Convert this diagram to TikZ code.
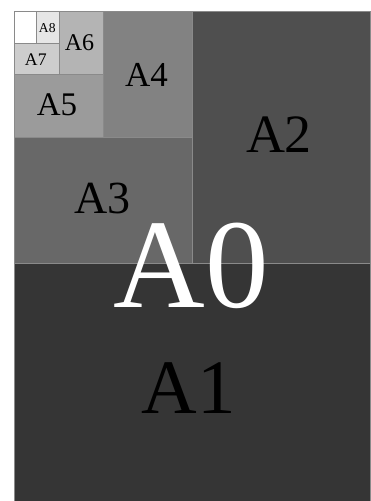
\documentclass[tikz,border=0pt]{standalone}
\usepackage{fontspec}
\setmainfont{Liberation Serif}
\definecolor{cA1}{HTML}{353535}
\definecolor{cA2}{HTML}{4F4F4F}
\definecolor{cA3}{HTML}{686868}
\definecolor{cA4}{HTML}{828282}
\definecolor{cA5}{HTML}{9B9B9B}
\definecolor{cA6}{HTML}{B4B4B4}
\definecolor{cA7}{HTML}{CDCDCD}
\definecolor{cA8}{HTML}{E6E6E6}
\definecolor{edge}{HTML}{8A8A8A}
\tikzset{
  sheet/.style={draw=edge, line width=0.9pt},
  lbl/.style={anchor=base, inner sep=0pt, outer sep=0pt, text depth=0pt},
}
\begin{document}
\begin{tikzpicture}[x=1pt,y=-1pt]
\useasboundingbox (0,0) rectangle (371,501);
\clip (0,0) rectangle (371,501);
\fill[white] (0,0) rectangle (371,501);
\def\L{14.7}\def\T{11.7}\def\R{370}\def\B{514.2}
% sheets
\filldraw[sheet, fill=cA1] (\L,262.95) rectangle (\R,\B);
\filldraw[sheet, fill=cA2] (192.35,\T) rectangle (\R,262.95);
\filldraw[sheet, fill=cA3] (\L,137.3) rectangle (192.35,262.95);
\filldraw[sheet, fill=cA4] (103.5,\T) rectangle (192.35,137.3);
\filldraw[sheet, fill=cA5] (\L,74.5) rectangle (103.5,137.3);
\filldraw[sheet, fill=cA6] (59.1,\T) rectangle (103.5,74.5);
\filldraw[sheet, fill=cA7] (\L,43.1) rectangle (59.1,74.5);
\filldraw[sheet, fill=cA8] (36.9,\T) rectangle (59.1,43.1);
\filldraw[sheet, fill=white] (\L,\T) rectangle (36.9,43.1);
% labels
\node[lbl, text height=51pt, font=\fontsize{77}{77}\selectfont] (a1) at (189,413.3) {A1};
\node[lbl, text height=36pt, font=\fontsize{54}{54}\selectfont] (a2) at (279,152.7) {A2};
\node[lbl, text height=30.5pt, font=\fontsize{46}{46}\selectfont] (a3) at (102.5,213.3) {A3};
\node[lbl, text height=23pt, font=\fontsize{35}{35}\selectfont] (a4) at (146.5,86) {A4};
\node[lbl, text height=22pt, font=\fontsize{33}{33}\selectfont] (a5) at (57,115) {A5};
\node[lbl, text height=16pt, font=\fontsize{24}{24}\selectfont] (a6) at (79.5,50.7) {A6};
\node[lbl, text height=11.7pt, font=\fontsize{17.7}{17.7}\selectfont] (a7) at (35.8,65) {A7};
\node[lbl, text height=9pt, font=\fontsize{13.6}{13.6}\selectfont] (a8) at (47.3,32.3) {A8};
\node[lbl, white, text height=84pt, font=\fontsize{127}{127}\selectfont] (a0) at (191.5,307) {A0};
\end{tikzpicture}
\end{document}
